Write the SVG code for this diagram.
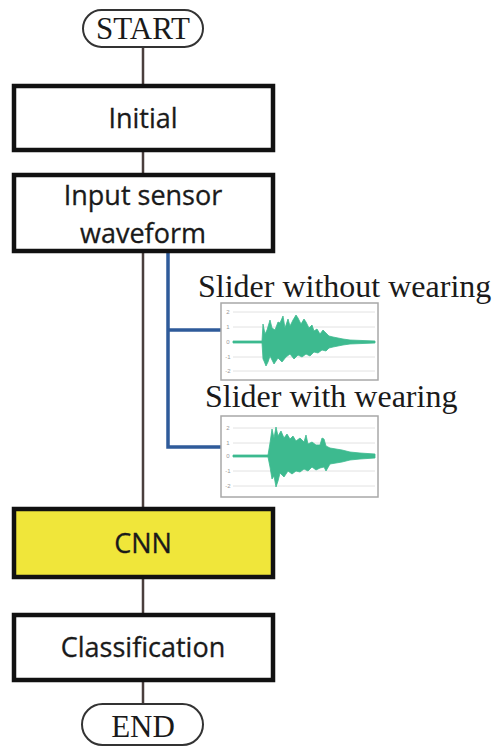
<svg xmlns="http://www.w3.org/2000/svg" width="495" height="749" viewBox="0 0 495 749">
<style>
.box{fill:#fff;stroke:#111;stroke-width:4.5}
.pill{fill:#fff;stroke:#333;stroke-width:2}
.sans{font-family:"Open Sans","Liberation Sans",sans-serif;font-size:27px;fill:#1a1a1a;text-anchor:middle;stroke:#1a1a1a;stroke-width:0.3}
.serif{font-family:"Liberation Serif","Times New Roman",serif;fill:#1a1a1a}
.frame{fill:#fff;stroke:#a8a8a8;stroke-width:1.5}
.grid{stroke:#e2e2e2;stroke-width:1}
.tick{font-family:"Liberation Sans",sans-serif;font-size:6px;fill:#999;text-anchor:middle}
.wave{fill:#3dba8f;stroke:#3dba8f;stroke-width:0.8;stroke-linejoin:round}
</style>
<rect width="495" height="749" fill="#fff"/>
<g id="connectors">
<line x1="143" y1="47" x2="143" y2="703" stroke="#4a3f3d" stroke-width="2.5"/>
<path d="M168,253 V447 H221 M168,330 H221" fill="none" stroke="#2f5b9a" stroke-width="3.5"/>
</g>
<g id="start">
<rect class="pill" x="83" y="10" width="120" height="37" rx="18.5"/>
<text class="serif" x="143" y="39" font-size="31" text-anchor="middle">START</text>
</g>
<g id="initial">
<rect class="box" x="14" y="86" width="259" height="64"/>
<text class="sans" x="143" y="128">Initial</text>
</g>
<g id="input">
<rect class="box" x="14" y="175" width="259" height="76"/>
<text class="sans" x="143" y="205">Input sensor</text>
<text class="sans" x="143" y="243">waveform</text>
</g>
<g id="without">
<text class="serif" x="198" y="297" font-size="32">Slider without wearing</text>
<rect class="frame" x="221" y="303" width="157" height="77"/>
<g class="grid"><line x1="233" y1="312" x2="375" y2="312"/><line x1="233" y1="327" x2="375" y2="327"/><line x1="233" y1="342" x2="375" y2="342"/><line x1="233" y1="357" x2="375" y2="357"/><line x1="233" y1="371" x2="375" y2="371"/></g>
<g class="tick"><text x="228" y="314">2</text><text x="228" y="329">1</text><text x="228" y="344">0</text><text x="228" y="359">-1</text><text x="228" y="373">-2</text></g>
<path class="wave" d="M233,341 L262,341 263,324 265,334 267,330 270,320 272,328 275,330 278,322 280,323 283,316 285,328 288,319 290,326 293,320 296,315 298,318 301,324 304,319 306,322 309,328 312,325 314,331 317,329 320,334 323,330 326,333 329,336 333,337 338,338 343,339 350,340 375,341 375,343 350,344 343,345 338,346 333,347 329,348 326,351 322,350 318,353 314,352 310,356 306,354 302,357 298,355 294,359 290,354 286,357 282,362 278,358 274,364 270,356 268,362 266,366 264,361 263,359 262,343 233,343 Z"/>
</g>
<g id="with">
<text class="serif" x="205" y="407" font-size="32">Slider with wearing</text>
<rect class="frame" x="221" y="416" width="157" height="81"/>
<g class="grid"><line x1="233" y1="428" x2="375" y2="428"/><line x1="233" y1="443" x2="375" y2="443"/><line x1="233" y1="456" x2="375" y2="456"/><line x1="233" y1="471" x2="375" y2="471"/><line x1="233" y1="486" x2="375" y2="486"/></g>
<g class="tick"><text x="228" y="430">2</text><text x="228" y="445">1</text><text x="228" y="458">0</text><text x="228" y="473">-1</text><text x="228" y="488">-2</text></g>
<path class="wave" d="M233,455 L268,455 270,443 272,429 274,438 276,427 278,436 281,431 284,438 287,434 290,439 293,436 296,441 300,438 304,442 306,435 308,444 312,442 316,445 320,445 322,438 324,439 326,446 330,448 336,449 342,450 350,452 360,453 375,454 375,458 360,459 350,460 342,462 336,463 330,464 326,471 324,467 320,468 316,470 312,467 308,471 304,469 300,472 296,471 292,474 288,471 284,477 280,473 278,481 276,487 274,476 272,479 270,467 268,457 233,457 Z"/>
</g>
<g id="cnn">
<rect class="box" x="14" y="509" width="259" height="68" style="fill:#f0e63a"/>
<text class="sans" x="143" y="553">CNN</text>
</g>
<g id="classification">
<rect class="box" x="14" y="615" width="259" height="65"/>
<text class="sans" x="143" y="657">Classification</text>
</g>
<g id="end">
<rect class="pill" x="82" y="704" width="121" height="41" rx="20.5"/>
<text class="serif" x="143" y="737" font-size="31" text-anchor="middle">END</text>
</g>
</svg>
